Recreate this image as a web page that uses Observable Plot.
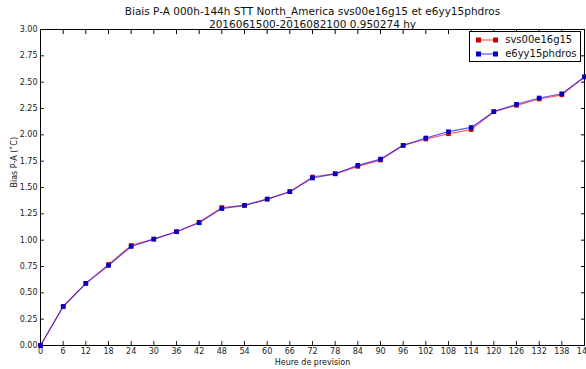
<!DOCTYPE html>
<html>
<head>
<meta charset="utf-8">
<script src="https://cdn.jsdelivr.net/npm/d3@7"></script>
<script src="https://cdn.jsdelivr.net/npm/@observablehq/plot@0.6"></script>
<style>
body{margin:0;background:#fff;font-family:"DejaVu Sans",sans-serif;}
#wrap{position:relative;width:586px;height:369px;}
#legend{position:absolute;left:469px;top:31px;width:112px;height:31px;border:1px solid #000;background:#fff;font-size:10px;box-sizing:border-box;color:#111;}
.row{position:absolute;left:6px;height:14px;line-height:14px;}
.row svg{vertical-align:middle;}
</style>
</head>
<body>
<div id="wrap"><div id="chart"></div>
<div id="legend"></div></div>
<script>
const hours = [0,6,12,18,24,30,36,42,48,54,60,66,72,78,84,90,96,102,108,114,120,126,132,138,144];
const svsValues = [0.00,0.37,0.59,0.77,0.95,1.01,1.08,1.17,1.31,1.33,1.39,1.46,1.60,1.63,1.70,1.76,1.90,1.96,2.01,2.05,2.22,2.28,2.34,2.38,2.55];
const e6yValues = [0.00,0.37,0.59,0.76,0.94,1.01,1.08,1.165,1.30,1.33,1.39,1.46,1.59,1.63,1.71,1.77,1.90,1.97,2.03,2.07,2.22,2.29,2.35,2.39,2.55];
const seriesNames = ["svs00e16g15","e6yy15phdros"];
const seriesColors = ["#ff0000","#0000ff"];
const markerColors = ["#cc0000","#0000cc"];
const yTicks = d3.range(0, 3.001, 0.25);
const titleText = "Biais P-A 000h-144h STT North_America svs00e16g15 et e6yy15phdros\n2016061500-2016082100 0.950274 hy";

const data = [];
hours.forEach((h,i)=>{
  data.push({h, v: svsValues[i], s: seriesNames[0]});
  data.push({h, v: e6yValues[i], s: seriesNames[1]});
});

const plot = Plot.plot({
  width: 586, height: 369,
  marginLeft: 40, marginRight: 2, marginTop: 29, marginBottom: 24,
  style: {fontFamily: "DejaVu Sans, sans-serif", fontSize: "8px", background: "#fff", overflow: "visible"},
  x: {domain: [0,144], ticks: hours, label: null},
  y: {domain: [0,3], ticks: yTicks, label: null},
  color: {domain: seriesNames, range: seriesColors},
  marks: [
    Plot.axisX({ticks: hours, tickSize: -4, tickPadding: 7, tickFormat: d=>String(d), label: null, color:"#222"}),
    Plot.axisX({anchor:"top", ticks: hours, tickSize: -4, tickFormat: ()=>"", label: null}),
    Plot.axisY({ticks: yTicks, tickSize: -4, tickPadding: 7, tickFormat: d3.format(".2f"), label: null, color:"#222"}),
    Plot.axisY({anchor:"right", ticks: yTicks, tickSize: -4, tickFormat: ()=>"", label: null}),
    Plot.frame({stroke: "#000", strokeWidth: 1}),
    Plot.line(data, {x:"h", y:"v", z:"s", stroke:"s", strokeOpacity:0.65, strokeWidth:1.2}),
    Plot.dot(data, {x:"h", y:"v", fill: d=> d.s===seriesNames[0]? markerColors[0]:markerColors[1], symbol:"square", r:2.6, stroke:"none"}),
    Plot.text([titleText], {frameAnchor:"top", lineAnchor:"bottom", dy:-2, fontSize:10.5, lineHeight:1.15, fill:"#111"}),
    Plot.text(["Heure de prevision"], {frameAnchor:"bottom", dy:19, fontSize:8, fill:"#111"}),
    Plot.text(["Bias P-A (\u02daC)"], {frameAnchor:"left", dx:-26, rotate:-90, fontSize:8, fill:"#111"})
  ]
});
document.getElementById("chart").appendChild(plot);

const legend = document.getElementById("legend");
seriesNames.forEach((n,i)=>{
  const row = document.createElement("div");
  row.className = "row";
  row.style.top = (1 + i*14) + "px";
  row.innerHTML = `<svg width="22" height="8"><line x1="2" x2="20" y1="4" y2="4" stroke="${seriesColors[i]}" stroke-opacity="0.65" stroke-width="1.2"/><rect x="0" y="1.5" width="5" height="5" fill="${markerColors[i]}"/><rect x="17" y="1.5" width="5" height="5" fill="${markerColors[i]}"/></svg> <span style="margin-left:4px">${n}</span>`;
  legend.appendChild(row);
});
</script>
</body>
</html>
